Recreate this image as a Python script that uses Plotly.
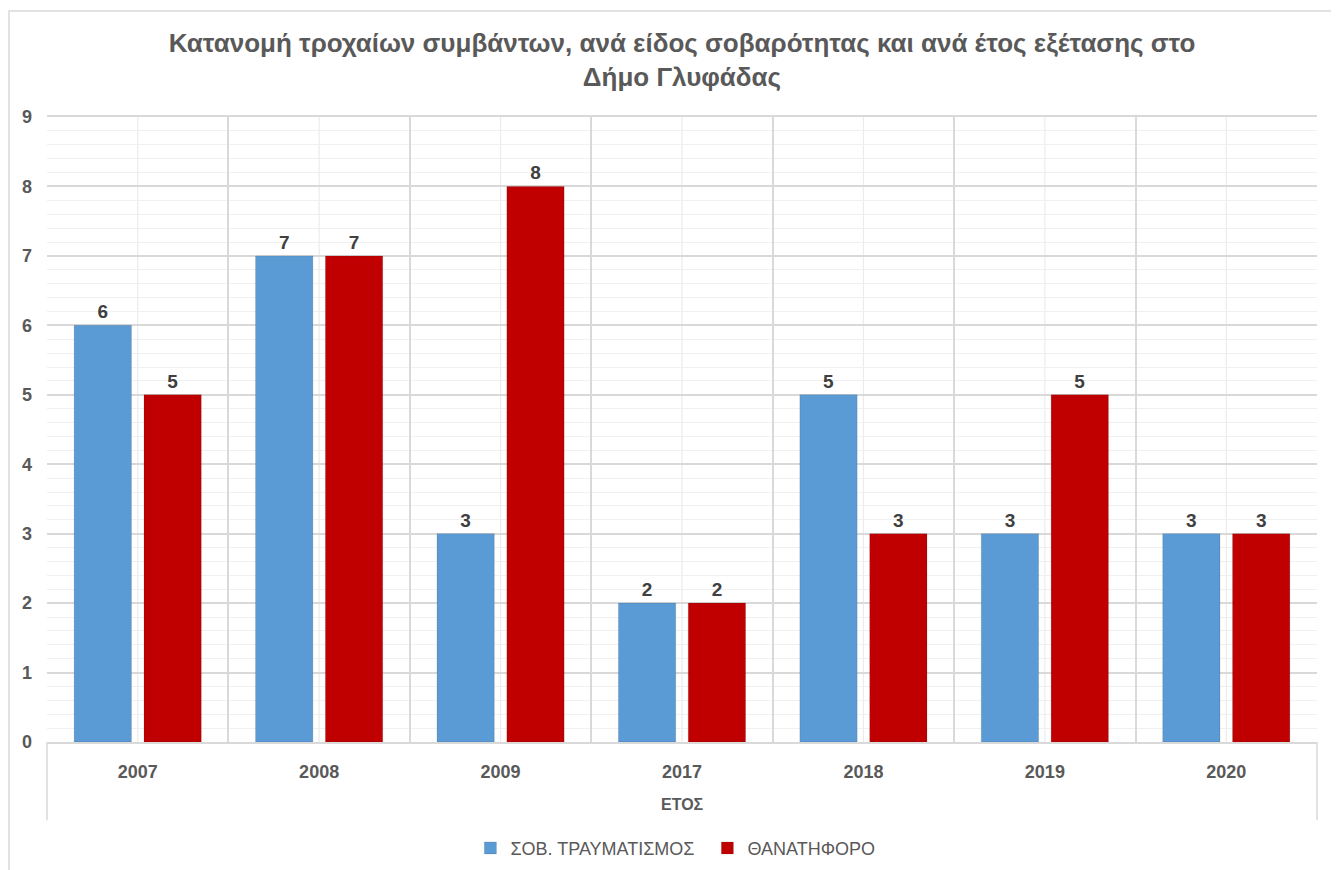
import plotly.graph_objects as go

years = ["2007", "2008", "2009", "2017", "2018", "2019", "2020"]
serious_injury = [6, 7, 3, 2, 5, 3, 3]
fatal = [5, 7, 8, 2, 3, 5, 3]
series_names = ["ΣΟΒ. ΤΡΑΥΜΑΤΙΣΜΟΣ", "ΘΑΝΑΤΗΦΟΡΟ"]
y_ticks = list(range(0, 10))

title_text = "Κατανομή τροχαίων συμβάντων, ανά είδος σοβαρότητας και ανά έτος εξέτασης στο<br>Δήμο Γλυφάδας"
x_title = "ΕΤΟΣ"

BLUE = "#5B9BD5"
RED = "#C00000"
TXT = "#595959"
LBL = "#404040"
FONT = "Liberation Sans"
NARROW = "Liberation Sans Narrow, Arial Narrow, Liberation Sans"

fig = go.Figure()
for name, vals, col in [(series_names[0], serious_injury, BLUE), (series_names[1], fatal, RED)]:
    fig.add_trace(go.Bar(
        x=years, y=vals, name=name,
        marker=dict(color=col, line=dict(color="rgba(0,0,0,0.12)", width=1)),
        text=[str(v) for v in vals], textposition="outside",
        textfont=dict(family=FONT, size=19, color=LBL, weight="bold"),
        cliponaxis=False,
    ))

shapes = []
# lighter vertical lines at category centres (category index positions)
for i in range(len(years)):
    shapes.append(dict(type="line", xref="x", yref="paper", x0=i, x1=i, y0=0, y1=1,
                       line=dict(color="#EBEBEB", width=1.2), layer="below"))
# left / right axis extensions below the axis
for xp in [0, 1]:
    shapes.append(dict(type="line", xref="paper", yref="paper", x0=xp, x1=xp, y0=0, y1=-0.125,
                       line=dict(color="#D9D9D9", width=1.5)))
# outer chart border
shapes.append(dict(type="rect", xref="paper", yref="paper", x0=-0.0299, x1=1.0165, y0=-0.25, y1=1.1696,
                   line=dict(color="#D9D9D9", width=1.5), fillcolor="rgba(0,0,0,0)"))

fig.update_layout(
    width=1339, height=870,
    margin=dict(l=39, r=30, t=109, b=136, autoexpand=False),
    paper_bgcolor="white", plot_bgcolor="white",
    barmode="group", bargap=0.23, bargroupgap=0.18,
    title=dict(text=title_text, x=0.5, xanchor="center", xref="paper",
               y=1 - 44 / 870, yanchor="top", yref="container",
               font=dict(family=NARROW, size=26, color=TXT, weight="bold")),
    xaxis=dict(type="category", tickson="boundaries", showgrid=True, gridcolor="#D9D9D9", gridwidth=1.5,
               ticks="", showline=True, linecolor="#D9D9D9", linewidth=1.5, mirror=True,
               tickfont=dict(family=FONT, size=18, color=TXT, weight="bold"),
               tickangle=0, ticklabelstandoff=13),
    yaxis=dict(range=[0, 9], tickvals=y_ticks, showgrid=True, gridcolor="#D9D9D9", gridwidth=1.5,
               minor=dict(dtick=0.2, showgrid=True, gridcolor="#F0F0F0", gridwidth=1.2),
               zeroline=False, showline=False, ticks="",
               tickfont=dict(family=FONT, size=18, color=TXT, weight="bold"),
               ticklabelstandoff=14),
    legend=dict(orientation="h", x=0.520, xanchor="center", y=-0.17, yanchor="middle",
                font=dict(family=FONT, size=18, color=TXT), traceorder="normal",
                entrywidth=192, entrywidthmode="pixels"),
    annotations=[dict(text=x_title, xref="paper", yref="paper", x=0.5, y=-0.1, xanchor="center",
                      yanchor="middle", showarrow=False,
                      font=dict(family=FONT, size=16, color=TXT, weight="bold"))],
    shapes=shapes,
    showlegend=True,
)

fig.write_html("out.html")
